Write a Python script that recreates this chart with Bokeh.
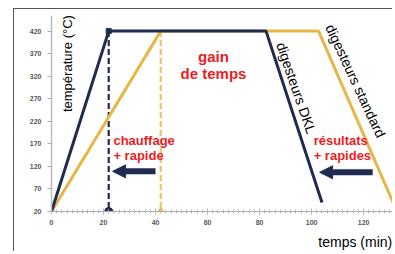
from bokeh.plotting import figure
from bokeh.embed import file_html
from bokeh.resources import INLINE
from bokeh.core.properties import value
from bokeh.models import (FixedTicker, SingleIntervalTicker, Label, Arrow, NormalHead,
                          LinearAxis)
import math

# ---- data ----
dkl_t = [0, 22, 82.5, 104]
dkl_temp = [20, 420, 420, 40]
std_t = [0, 42, 102.7, 131.5]
std_temp = [20, 420, 420, 38]
dkl_heat_end = 22
std_heat_end = 42
y_ticks = [20, 70, 120, 170, 220, 270, 320, 370, 420]
x_title = "temps (min)"
x_title_pos = 117.0

gain_lines = ["gain", "de temps"]
gain_x = [62.3, 62.3]
gain_y = [363.5, 326.5]
chauf_lines = ["chauffage", "+ rapide"]
chauf_x = [23.8, 23.8]
chauf_y = [176.5, 144.0]
res_lines = ["résultats", "+ rapides"]
res_x = [100.8, 100.8]
res_y = [176.5, 144.0]
arrow_tail_x = [40.0, 123.5]
arrow_tip_x = [23.5, 103.1]
arrow_y = [109.0, 107.0]

NAVY = "#1f2b50"
GOLD = "#e6b748"
GOLD_D = "#e8c56a"
RED = "#ec1c24"
FONTNAME = "Liberation Sans"
FONT = value(FONTNAME)

W, H = 379, 243
p = figure(width=W, height=H, x_range=(0, 131.5), y_range=(20, 463.5),
           output_backend="svg", toolbar_location=None,
           min_border_left=37, min_border_right=0, min_border_top=2, min_border_bottom=37)
p.margin = (8, 0, 0, 13)
p.styles = {"border-top": "1.5px solid #555555", "border-left": "1.5px solid #555555"}
p.background_fill_color = "white"
p.border_fill_color = "white"
p.outline_line_color = None
p.xgrid.visible = False
p.ygrid.visible = False

# axes
xa = p.xaxis[0]
xa.ticker = SingleIntervalTicker(interval=20, num_minor_ticks=10)
xa.axis_line_color = "#aaaaaa"
xa.major_tick_line_color = "#aaaaaa"
xa.minor_tick_line_color = "#bbbbbb"
xa.major_tick_in = 3
xa.major_tick_out = 3
xa.minor_tick_in = 2
xa.minor_tick_out = 2
xa.major_label_text_font_size = "7px"
xa.major_label_text_color = "#555555"
xa.major_label_text_font_style = "bold"
xa.major_label_standoff = 5

# x-axis title as a second, line-less axis below
xt = LinearAxis(ticker=FixedTicker(ticks=[x_title_pos]),
                major_label_overrides={x_title_pos: x_title})
xt.axis_line_color = None
xt.major_tick_line_color = None
xt.minor_tick_line_color = None
xt.major_label_text_font = FONTNAME
xt.major_label_text_font_size = "14px"
xt.major_label_text_color = "black"
xt.major_label_standoff = 0
p.add_layout(xt, "below")

ya = p.yaxis[0]
ya.ticker = FixedTicker(ticks=y_ticks)
ya.bounds = (20, 455)
ya.axis_line_color = "#bbbbbb"
ya.axis_line_width = 1.5
ya.major_tick_line_color = "#aaaaaa"
ya.major_tick_in = 0
ya.major_tick_out = 4
ya.minor_tick_line_color = None
ya.major_label_text_font_size = "7px"
ya.major_label_text_color = "#555555"
ya.major_label_text_font_style = "bold"
ya.major_label_standoff = 6

# dashed verticals
p.line([dkl_heat_end, dkl_heat_end], [dkl_temp[1], dkl_temp[0]], line_color=NAVY,
       line_width=2.2, line_dash="6 3")
p.line([std_heat_end, std_heat_end], [std_temp[1], std_temp[0]], line_color=GOLD_D,
       line_width=2.2, line_dash="6 3")

# main curves
p.line(std_t, std_temp, line_color=GOLD, line_width=3)
p.line(dkl_t, dkl_temp, line_color=NAVY, line_width=3)

p.scatter([dkl_heat_end], [dkl_temp[0]], size=8, color=NAVY)
p.scatter([std_heat_end], [std_temp[0]], size=8, color=GOLD, marker="diamond")
p.scatter([dkl_heat_end], [dkl_temp[1]], size=5, color=NAVY, marker="square")

# red texts
p.text(gain_x, gain_y, text=gain_lines, text_color=RED, text_font=FONT,
       text_font_style="bold", text_font_size="15px", text_align="center",
       text_baseline="middle")
p.text(chauf_x, chauf_y, text=chauf_lines, text_color=RED, text_font=FONT,
       text_font_style="bold", text_font_size="13px", text_align="left",
       text_baseline="middle")
p.text(res_x, res_y, text=res_lines, text_color=RED, text_font=FONT,
       text_font_style="bold", text_font_size="13px", text_align="left",
       text_baseline="middle")

# rotated series labels
p.text([88.1], [394], text=["digesteurs DKL"], angle=math.radians(-71),
       text_color="black", text_font=FONT, text_font_size="14px",
       text_align="left", text_baseline="middle")
p.text([106.9], [433], text=["digesteurs standard"], angle=math.radians(-65),
       text_color="black", text_font=FONT, text_font_size="14px",
       text_align="left", text_baseline="middle")

# arrows
for xs, xe, yy in zip(arrow_tail_x, arrow_tip_x, arrow_y):
    p.add_layout(Arrow(end=NormalHead(size=13, fill_color=NAVY, line_color=NAVY),
                       x_start=xs, y_start=yy, x_end=xe, y_end=yy,
                       line_color=NAVY, line_width=6))

# y-axis title
p.add_layout(Label(x=6.2, y=348, text="température (°C)", angle=math.pi / 2,
                   text_font=FONTNAME, text_font_size="13px", text_color="black",
                   text_align="center", text_baseline="middle"))

open("out.html", "w").write(file_html(p, INLINE))
